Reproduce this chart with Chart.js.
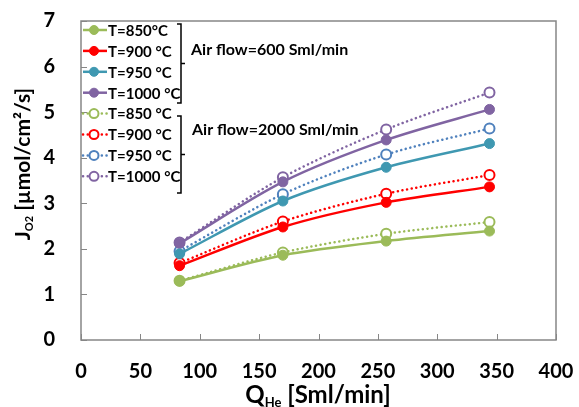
<!DOCTYPE html>
<html>
<head>
<meta charset="utf-8">
<script src="https://cdn.jsdelivr.net/npm/chart.js@4.4.1/dist/chart.umd.min.js"></script>
<style>
  html, body { margin: 0; padding: 0; background: #fff; }
  #wrap { width: 579px; height: 407px; }
</style>
</head>
<body>
<div id="wrap"><canvas id="flux"></canvas></div>
<script>
// He sweep flow rates [Sml/min]
const heFlow = [83, 170, 257, 344];

// O2 flux [umol/cm2/s], air flow 600 Sml/min
const flux600_850 = [1.29, 1.86, 2.17, 2.39];
const flux600_900 = [1.63, 2.48, 3.02, 3.36];
const flux600_950 = [1.89, 3.05, 3.79, 4.31];
const flux600_1000 = [2.12, 3.47, 4.39, 5.06];

// O2 flux [umol/cm2/s], air flow 2000 Sml/min
const flux2000_850 = [1.30, 1.92, 2.33, 2.59];
const flux2000_900 = [1.69, 2.60, 3.21, 3.62];
const flux2000_950 = [1.95, 3.20, 4.07, 4.64];
const flux2000_1000 = [2.14, 3.57, 4.62, 5.43];

const yTicks = [0, 1, 2, 3, 4, 5, 6, 7];
const xTicks = [0, 50, 100, 150, 200, 250, 300, 350, 400];

const FONT = 'Lato, "Liberation Sans", sans-serif';
const GREEN = '#9BBB59', RED = '#FF0000', TEAL = '#3F98B1', BLUE = '#4F81BD', PURPLE = '#8064A2';

function solid(label, data, color) {
  return {
    label, data: heFlow.map((x, i) => ({ x, y: data[i] })),
    borderColor: color, backgroundColor: color, borderWidth: 2.5,
    pointRadius: 5, pointHoverRadius: 5, pointBorderWidth: 1,
    pointBackgroundColor: color, pointBorderColor: color,
    tension: 0.3
  };
}
function dotted(label, data, color) {
  return {
    label, data: heFlow.map((x, i) => ({ x, y: data[i] })),
    borderColor: color, backgroundColor: '#fff', borderWidth: 2.5,
    borderDash: [0.1, 4.6], borderCapStyle: 'round',
    pointRadius: 5, pointHoverRadius: 5, pointBorderWidth: 2,
    pointBackgroundColor: '#fff', pointBorderColor: color,
    tension: 0.3
  };
}

const datasets = [
  solid('T=850°C', flux600_850, GREEN),
  solid('T=900 °C', flux600_900, RED),
  solid('T=950 °C', flux600_950, TEAL),
  solid('T=1000 °C', flux600_1000, PURPLE),
  dotted('T=850 °C', flux2000_850, GREEN),
  dotted('T=900 °C', flux2000_900, RED),
  dotted('T=950 °C', flux2000_950, BLUE),
  dotted('T=1000 °C', flux2000_1000, PURPLE)
];

// frame, inner tick marks, legend with brackets, axis titles with sub/superscripts
const decor = {
  id: 'decor',
  beforeDatasetsDraw(chart) {
    const { ctx, chartArea: a, scales: { x, y } } = chart;
    ctx.save();
    ctx.strokeStyle = '#868686';
    ctx.lineWidth = 1;
    ctx.beginPath();
    yTicks.forEach(v => {
      const py = Math.round(y.getPixelForValue(v)) + 0.5;
      ctx.moveTo(a.left, py); ctx.lineTo(a.left + 6, py);
    });
    xTicks.forEach(v => {
      const px = Math.round(x.getPixelForValue(v)) + 0.5;
      ctx.moveTo(px, a.bottom); ctx.lineTo(px, a.bottom - 6);
    });
    ctx.stroke();
    ctx.lineWidth = 1.5;
    ctx.strokeRect(a.left, a.top, a.right - a.left, a.bottom - a.top);
    ctx.restore();
  },
  afterDraw(chart) {
    const { ctx, chartArea: a } = chart;
    ctx.save();
    // legend entries
    chart.data.datasets.forEach((ds, i) => {
      const cy = 30 + i * 20.9;
      ctx.strokeStyle = ds.borderColor;
      ctx.lineWidth = 2.5;
      ctx.lineCap = ds.borderDash ? 'round' : 'butt';
      ctx.setLineDash(ds.borderDash || []);
      ctx.beginPath();
      ctx.moveTo(a.left + 2, cy); ctx.lineTo(a.left + 26, cy);
      ctx.stroke();
      ctx.setLineDash([]);
      ctx.lineCap = 'butt';
      ctx.beginPath();
      ctx.arc(a.left + 13, cy, 4.5, 0, Math.PI * 2);
      ctx.fillStyle = ds.pointBackgroundColor;
      ctx.fill();
      ctx.lineWidth = ds.pointBorderWidth;
      ctx.strokeStyle = ds.pointBorderColor;
      ctx.stroke();
      ctx.fillStyle = '#000';
      ctx.font = 'bold 15px ' + FONT;
      ctx.textAlign = 'left';
      ctx.textBaseline = 'middle';
      ctx.fillText(ds.label, a.left + 27, cy + 1);
    });
    // brackets
    ctx.strokeStyle = '#000';
    ctx.lineWidth = 1.5;
    [[24, 103], [116, 193]].forEach(([t, b]) => {
      const bx = 181, m = (t + b) / 2;
      ctx.beginPath();
      ctx.moveTo(bx - 4, t); ctx.lineTo(bx, t); ctx.lineTo(bx, b); ctx.lineTo(bx - 4, b);
      ctx.moveTo(bx, m); ctx.lineTo(bx + 4, m);
      ctx.stroke();
    });
    ctx.font = 'bold 16px ' + FONT;
    ctx.textBaseline = 'middle';
    ctx.fillText('Air flow=600 Sml/min', 191, 50);
    ctx.fillText('Air flow=2000 Sml/min', 192, 130);

    // axis titles
    function measure(parts) {
      let w = 0;
      parts.forEach(p => { ctx.font = p.f; p.w = ctx.measureText(p.t).width; w += p.w; });
      return w;
    }
    function drawRun(parts, x0, base) {
      let x = x0;
      parts.forEach(p => { ctx.font = p.f; ctx.fillText(p.t, x, base + (p.dy || 0)); x += p.w; });
    }
    ctx.textAlign = 'left';
    ctx.textBaseline = 'alphabetic';
    const xt = [
      { t: 'Q', f: 'bold 24px ' + FONT },
      { t: 'He', f: 'bold 13px ' + FONT, dy: 4 },
      { t: ' [Sml/min]', f: 'bold 24px ' + FONT }
    ];
    const xw = measure(xt);
    drawRun(xt, 318 - xw / 2, 403);

    const yt = [
      { t: 'J', f: 'bold 21px ' + FONT },
      { t: 'O2', f: 'bold 11px ' + FONT, dy: 3 },
      { t: ' [µmol/cm²/s]', f: 'bold 21px ' + FONT }
    ];
    const yw = measure(yt);
    ctx.translate(30, 164);
    ctx.rotate(-Math.PI / 2);
    drawRun(yt, -yw / 2, 0);
    ctx.restore();
  }
};

new Chart(document.getElementById('flux'), {
  type: 'line',
  data: { datasets },
  options: {
    responsive: true,
    maintainAspectRatio: false,
    animation: false,
    layout: { padding: { top: 21, right: 23, left: 0, bottom: 0 } },
    plugins: { legend: { display: false }, tooltip: { enabled: false } },
    scales: {
      x: {
        type: 'linear', min: 0, max: 400,
        afterFit: s => { s.height = 67; s.paddingLeft = 0; s.paddingRight = 0; },
        afterBuildTicks: s => { s.ticks = xTicks.map(v => ({ value: v })); },
        grid: { display: false }, border: { display: false },
        ticks: { padding: 12, color: '#000', font: { family: FONT, size: 20, weight: 'bold' } }
      },
      y: {
        min: 0, max: 7,
        afterFit: s => { s.width = 81; s.paddingTop = 0; s.paddingBottom = 0; },
        afterBuildTicks: s => { s.ticks = yTicks.map(v => ({ value: v })); },
        grid: { display: false }, border: { display: false },
        ticks: { padding: 18, color: '#000', font: { family: FONT, size: 20, weight: 'bold' } }
      }
    }
  },
  plugins: [decor]
});
</script>
</body>
</html>
